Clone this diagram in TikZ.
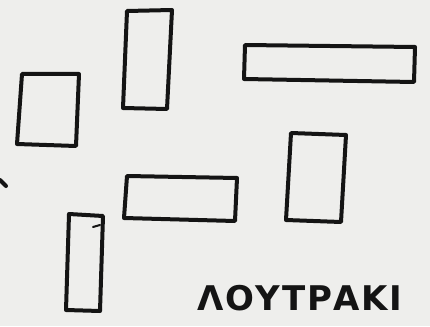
\documentclass[tikz,border=0pt]{standalone}
\usepackage{fontspec}
\newfontfamily\greekhand[LetterSpace=5]{DejaVu Sans Bold}
\definecolor{paper}{HTML}{EEEEEC}
\definecolor{ink}{HTML}{141414}
\tikzset{
  block/.style={draw=ink, line width=4pt, line join=round, line cap=round},
  label/.style={text=ink, font=\greekhand\fontsize{34}{34}\selectfont, inner sep=0pt, anchor=base west}
}
\begin{document}
\begin{tikzpicture}[x=1pt,y=-1pt]
\fill[paper] (0,0) rectangle (430,326);
\useasboundingbox (0,0) rectangle (430,326);
% left square
\draw[block] (22,74) -- (79,74) -- (76,146) -- (17,144) -- cycle;
% tall top
\draw[block] (127,11) -- (172,10) -- (167,109) -- (123,108) -- cycle;
% long top right
\draw[block] (245,45) -- (415,47) -- (414,82) -- (244,79) -- cycle;
% right middle
\draw[block] (291,133) -- (346,135) -- (341,222) -- (286,220) -- cycle;
% middle wide
\draw[block] (127,176) -- (237,178) -- (235,221) -- (124,218) -- cycle;
% bottom left tall
\draw[block] (69,214) -- (103,216) -- (100,311) -- (66,310) -- cycle;
\draw[draw=ink, line width=2pt, line cap=round] (93,227) -- (100,225);
% edge mark
\draw[draw=ink, line width=4pt, line cap=round] (0,180) -- (6,186);
\node[label] (name) at (197,310) {ΛΟΥΤΡΑΚΙ};
\end{tikzpicture}
\end{document}
